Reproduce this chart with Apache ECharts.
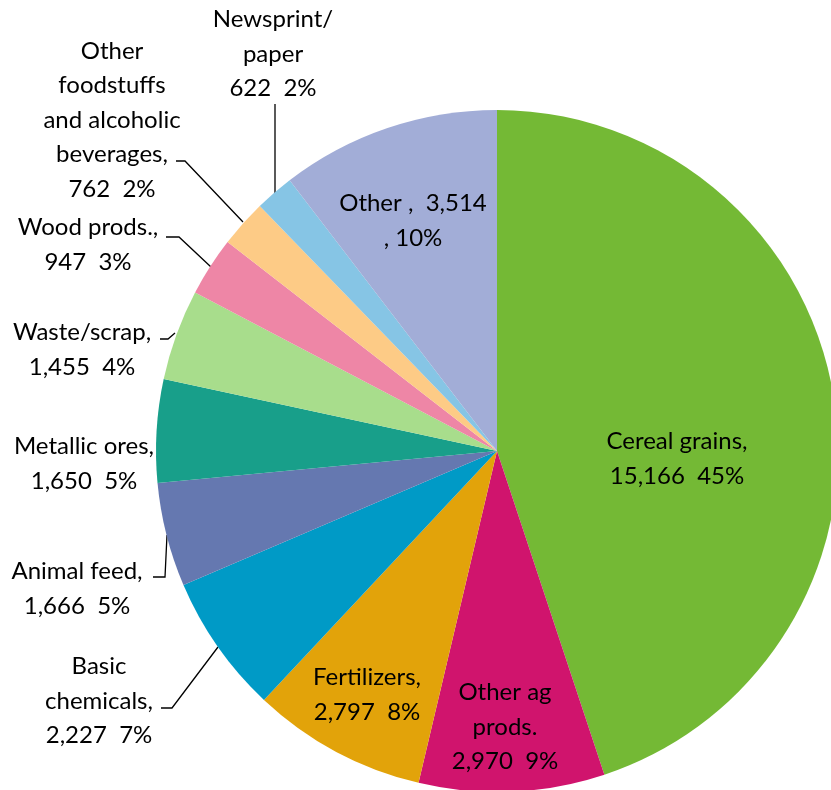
<!DOCTYPE html>
<html>
<head>
<meta charset="utf-8">
<script src="https://cdn.jsdelivr.net/npm/echarts@6/dist/echarts.min.js"></script>
<style>
  html, body { margin: 0; padding: 0; background: #ffffff; }
  #chart { width: 831px; height: 790px; }
</style>
</head>
<body>
<div id="chart"></div>
<script>
// Freight tonnage by commodity group (thousand tons)
const categories = [
  'Cereal grains', 'Other ag prods.', 'Fertilizers', 'Basic chemicals',
  'Animal feed', 'Metallic ores', 'Waste/scrap', 'Wood prods.',
  'Other foodstuffs and alcoholic beverages', 'Newsprint/paper', 'Other'
];
const values = [15166, 2970, 2797, 2227, 1666, 1650, 1455, 947, 762, 622, 3514];

// Label text per slice; {v} = value, {p} = percent
const labelTemplates = [
  'Cereal grains,\n{v}  {p}%',
  'Other ag\nprods.\n{v}  {p}%',
  'Fertilizers,\n{v}  {p}%',
  'Basic\nchemicals,\n{v}  {p}%',
  'Animal feed,\n{v}  {p}%',
  'Metallic ores,\n{v}  {p}%',
  'Waste/scrap,\n{v}  {p}%',
  'Wood prods.,\n{v}  {p}%',
  'Other\nfoodstuffs\nand alcoholic\nbeverages,\n{v}  {p}%',
  'Newsprint/\npaper\n{v}  {p}%',
  'Other ,  {v}\n, {p}%'
];

const colors = [
  '#74B935', '#D0146D', '#E2A30A', '#009AC6', '#6578B0', '#189F8A',
  '#A8DD8C', '#EE86A6', '#FDCB86', '#86C5E5', '#A2ADD7'
];

// Label placement (text block centre) and leader lines
const labelPlacement = [
  { x: 677, y: 459 },
  { x: 505, y: 727 },
  { x: 367, y: 695 },
  { x: 99, y: 701, line: [[161, 708], [172, 708], [218, 647]] },
  { x: 77, y: 589, line: [[153, 577], [165, 577], [167, 535]] },
  { x: 84, y: 464 },
  { x: 82, y: 350, line: [[160, 339], [168, 339], [175, 333]] },
  { x: 88, y: 245, line: [[166, 237], [179, 237], [211, 267]] },
  { x: 112, y: 120, line: [[176, 161], [185, 161], [243, 222]] },
  { x: 273, y: 54, line: [[275, 104], [275, 193]] },
  { x: 413, y: 221 }
];
const insideSlices = [0, 1, 2, 10];

const fmt = n => n.toLocaleString('en-US');

const chart = echarts.init(document.getElementById('chart'), null, { renderer: 'canvas' });

chart.setOption({
  animation: false,
  backgroundColor: '#ffffff',
  series: [{
    type: 'pie',
    center: [497, 451],
    radius: 341,
    startAngle: 90,
    clockwise: true,
    avoidLabelOverlap: false,
    percentPrecision: 0,
    itemStyle: { borderWidth: 0 },
    label: {
      show: true,
      color: '#000000',
      fontFamily: 'Lato, "Open Sans", sans-serif',
      fontSize: 24,
      lineHeight: 34.5,
      align: 'center',
      formatter: p => labelTemplates[p.dataIndex]
        .replace('{v}', fmt(p.value))
        .replace('{p}', p.percent)
    },
    labelLine: {
      show: true,
      lineStyle: { color: '#000000', width: 1.3 }
    },
    labelLayout: params => {
      const pl = labelPlacement[params.dataIndex];
      const out = { x: pl.x, y: pl.y, align: 'center', verticalAlign: 'middle' };
      if (pl.line) out.labelLinePoints = pl.line;
      return out;
    },
    data: categories.map((name, i) => ({
      name: name,
      value: values[i],
      itemStyle: { color: colors[i] },
      label: { position: insideSlices.includes(i) ? 'inside' : 'outside' },
      labelLine: { show: !!labelPlacement[i].line }
    }))
  }]
});
</script>
</body>
</html>
